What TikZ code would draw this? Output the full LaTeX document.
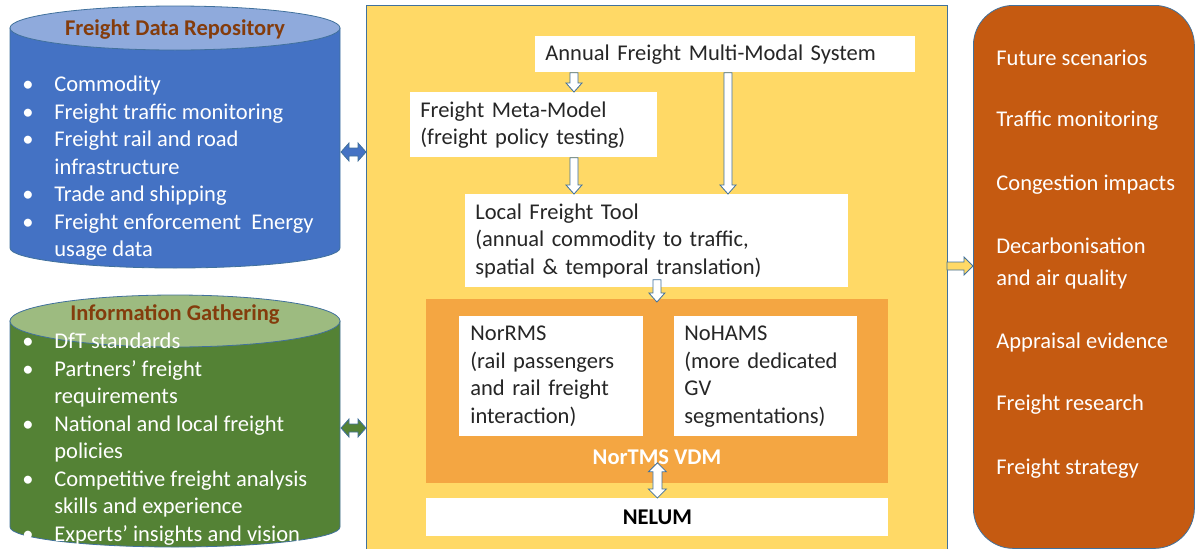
\documentclass[tikz,border=0pt]{standalone}
\usepackage{fontspec}
\setmainfont{Carlito}
\usetikzlibrary{positioning, calc}

\definecolor{repoblue}{HTML}{4472C4}
\definecolor{repotop}{HTML}{8FAADC}
\definecolor{infogreen}{HTML}{548235}
\definecolor{infotop}{RGB}{157,187,128}
\definecolor{titlebrown}{HTML}{843C0C}
\definecolor{edgeblue}{HTML}{41719C}
\definecolor{frameyellow}{HTML}{FFD966}
\definecolor{vdmorange}{RGB}{244,166,66}
\definecolor{usesbrown}{HTML}{C55A11}
\definecolor{txtgrey}{HTML}{262626}

\newcommand\diagfont{\fontsize{22.5}{27.5}\selectfont}
\newcommand\bul{\makebox[32pt][l]{\textbullet}}
\newcommand\nobul{\hspace*{32pt}}

\begin{document}
\begin{tikzpicture}[x=1pt, y=-1pt, line width=0.8pt,
  every node/.style={font=\diagfont, inner sep=0pt},
  whitebox/.style={fill=white, anchor=north west, align=left, text=txtgrey, inner xsep=10pt},
  listtext/.style={anchor=west, align=left, text=white},
  cyltitle/.style={text=titlebrown, font=\diagfont\bfseries},
  usetext/.style={anchor=west, align=left, text=white, font=\fontsize{22.5}{31.5}\selectfont},
  hollowdown/.style={draw=edgeblue, fill=white, to path={let \p1=(\tikztostart), \p2=(\tikztotarget) in
    (\x1-4pt,\y1) -- (\x1-4pt,\y2+9pt) -- (\x1-8pt,\y2+9pt) -- (\x1,\y2) -- (\x1+8pt,\y2+9pt)
    -- (\x1+4pt,\y2+9pt) -- (\x1+4pt,\y1) -- cycle}},
  hollowboth/.style={draw=edgeblue, fill=white, to path={let \p1=(\tikztostart), \p2=(\tikztotarget) in
    (\x1,\y1) -- (\x1+9pt,\y1-9pt) -- (\x1+4.5pt,\y1-9pt) -- (\x1+4.5pt,\y2+9pt) -- (\x1+9pt,\y2+9pt)
    -- (\x1,\y2) -- (\x1-9pt,\y2+9pt) -- (\x1-4.5pt,\y2+9pt) -- (\x1-4.5pt,\y1-9pt) -- (\x1-9pt,\y1-9pt) -- cycle}},
  sideboth/.style={draw=edgeblue, to path={let \p1=(\tikztostart), \p2=(\tikztotarget) in
    (\x1,\y1) -- (\x1+8pt,\y1+9pt) -- (\x1+8pt,\y1+4pt) -- (\x2-8pt,\y1+4pt) -- (\x2-8pt,\y1+9pt)
    -- (\x2,\y1) -- (\x2-8pt,\y1-9pt) -- (\x2-8pt,\y1-4pt) -- (\x1+8pt,\y1-4pt) -- (\x1+8pt,\y1-9pt) -- cycle}},
  sideout/.style={draw=edgeblue, to path={let \p1=(\tikztostart), \p2=(\tikztotarget) in
    (\x1,\y1+4pt) -- (\x2-9pt,\y1+4pt) -- (\x2-9pt,\y1+9pt) -- (\x2,\y1) -- (\x2-9pt,\y1-9pt)
    -- (\x2-9pt,\y1-4pt) -- (\x1,\y1-4pt) -- cycle}}
]
\useasboundingbox (0,0) rectangle (1195,549);
\clip (0,0) rectangle (1195,549);

% data repository cylinder
\filldraw[fill=repoblue, draw=edgeblue] (10,28) -- (10,248) arc[start angle=180, end angle=360, x radius=165pt, y radius=20pt] -- (340,28) -- cycle;
\filldraw[fill=repotop, draw=edgeblue] (175,28) ellipse[x radius=165pt, y radius=22pt];
\node[cyltitle] (repotitle) at (175,30) {Freight Data Repository};
\node[listtext] (repolist) at (22,168.5) {\bul Commodity\\ \bul Freight traffic monitoring\\ \bul Freight rail and road\\
  \nobul infrastructure\\ \bul Trade and shipping\\ \bul Freight enforcement\ \ Energy\\ \nobul usage data};
\coordinate (repoR) at (341,152);

% information gathering cylinder
\filldraw[fill=infogreen, draw=edgeblue] (10,321) -- (10,527) arc[start angle=180, end angle=360, x radius=165pt, y radius=20pt] -- (340,321) -- cycle;
\filldraw[fill=infotop, draw=edgeblue] (175,321) ellipse[x radius=165pt, y radius=26pt];
\node[cyltitle] (infotitle) at (175,314) {Information Gathering};
\node[listtext] (infolist) at (22,439) {\bul DfT standards\\ \bul Partners’ freight\\ \nobul requirements\\
  \bul National and local freight\\ \nobul policies\\ \bul Competitive freight analysis\\ \nobul skills and experience\\
  \bul Experts’ insights and vision};
\coordinate (infoR) at (341,428);

% model frame
\node[draw=edgeblue, fill=frameyellow, anchor=north west, minimum width=581pt, minimum height=560pt] (frame) at (366,5) {};
\node[whitebox, text width=360pt, minimum height=36pt] (annual) at (535,36) {Annual Freight Multi-Modal System};
\node[whitebox, text width=227pt, minimum height=65pt] (meta) at (410,92) {Freight Meta-Model\\(freight policy testing)};
\node[whitebox, text width=363pt, minimum height=93pt] (local) at (465,194)
  {Local Freight Tool\\(annual commodity to traffic,\\spatial \& temporal translation)};
\node[fill=vdmorange, anchor=north west, minimum width=462pt, minimum height=184pt] (vdm) at (426,299) {};
\node[whitebox, text width=162pt, inner xsep=11pt, minimum height=120pt] (norrms) at (459,316)
  {NorRMS\\(rail passengers\\and rail freight\\interaction)};
\node[whitebox, text width=163pt, inner xsep=10pt, minimum height=120pt] (nohams) at (674,316)
  {NoHAMS\\(more dedicated\\GV\\segmentations)};
\node[text=white, font=\diagfont\bfseries] (vdmlabel) at (657,457) {NorTMS VDM};
\node[whitebox, align=center, minimum width=462pt, minimum height=38pt, font=\diagfont\bfseries, text=black] (nelum) at (426,498) {NELUM};

\draw[hollowdown] ([xshift=39pt]annual.south west) to ([xshift=164pt]meta.north west);
\draw[hollowdown] ([xshift=164pt]meta.south west) to ([xshift=109pt]local.north west);
\draw[hollowdown] ([xshift=193pt]annual.south west) to ([xshift=263pt]local.north west);
\draw[hollowdown] ([yshift=8pt]local.south) to ([yshift=-3pt]vdm.north);
\draw[hollowboth] ([yshift=21pt]vdm.south) to (nelum.north);

% outputs
\node[draw=edgeblue, fill=usesbrown, rounded corners=40pt, anchor=north west, minimum width=221pt, minimum height=543pt] (uses) at (973,5) {};
\foreach \y/\txt [count=\i] in {58/Future scenarios, 121/Traffic monitoring, 185/Congestion impacts,
    263.5/{Decarbonisation\\and air quality}, 342/Appraisal evidence, 405/Freight research, 469/Freight strategy}
  \node[usetext] (use\i) at (996,\y) {\txt};

\draw[sideboth, fill=repoblue] (repoR) to (repoR -| frame.west);
\draw[sideboth, fill=infogreen] (infoR) to (infoR -| frame.west);
\coordinate (outlet) at (947,266);
\draw[sideout, fill=frameyellow] (outlet) to (outlet -| uses.west);
\end{tikzpicture}
\end{document}
